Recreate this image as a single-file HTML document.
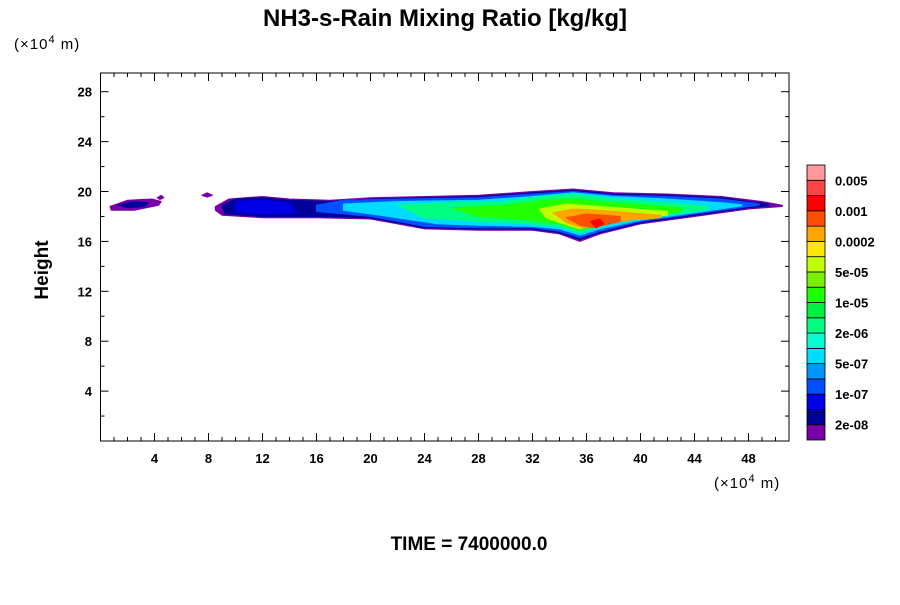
<!DOCTYPE html>
<html><head><meta charset="utf-8"><style>
body{margin:0;background:#fff;width:900px;height:600px;overflow:hidden;font-family:"Liberation Sans",sans-serif}
</style></head><body>
<svg id="c" width="900" height="600" xmlns="http://www.w3.org/2000/svg" font-family="Liberation Sans, sans-serif">
<text x="445" y="26" text-anchor="middle" font-size="24" font-weight="bold">NH3-s-Rain Mixing Ratio [kg/kg]</text>
<text x="14" y="49" font-size="15" letter-spacing="1">(×10<tspan dy="-6" font-size="11">4</tspan><tspan dy="6"> m)</tspan></text>
<text x="714" y="488" font-size="15" letter-spacing="1">(×10<tspan dy="-6" font-size="11">4</tspan><tspan dy="6"> m)</tspan></text>
<text x="48" y="270" font-size="19" font-weight="bold" text-anchor="middle" transform="rotate(-90 48 270)">Height</text>
<text x="469" y="550" font-size="19" font-weight="bold" text-anchor="middle">TIME = 7400000.0</text>
<g id="field"></g>
<g id="axes"></g>
<g id="cbar"></g>
</svg>
<script>
const colors=["#7800aa","#00009a","#0000e6","#0050ff","#0096ff","#00dcff","#00ffd0","#00ff80","#00f040","#22ff00","#78f000","#c0ff00","#ffe600","#ffa500","#ff5000","#ff0000","#ff4646","#ff9999"];
const cbLabels=["2e-08","1e-07","5e-07","2e-06","1e-05","5e-05","0.0002","0.001","0.005"];
const xTicks=[4,8,12,16,20,24,28,32,36,40,44,48];
const yTicks=[4,8,12,16,20,24,28];
// contour layers: level index, x points, y points (data units)
const layerLevel=[0,1,0,1,0,0,2,3,5,7,9,11,13,14,15];
const layerX=[
[8.5,9.5,12,14,17,20,24,28,32,35,38,42,46,49,50.5,50.5,48,44,40,37,35.5,34,32,28,24,20,16,12,9,8.5],
[9,10,12,14,17,20,24,28,32,35,38,42,46,49.5,49.5,48,44,40,37,35.5,34,32,28,24,20,16,12,9.2],
[0.7,2,3.8,4.5,4.3,2.5,0.8],
[1.3,2.5,3.5,3.3,2],
[7.5,7.9,8.3,7.9],
[4.2,4.5,4.7,4.4],
[10,12,14,14.5,12,10],
[16,18,22,28,32,35,38,42,46,48.8,48.8,46,42,40,37,35.5,34,32,28,24,20,16],
[18,22,28,32,35,38,42,46,47.5,47.5,44,40,37,35.5,34,32,28,25,22,18],
[22,26,30,32.5,35,38,42,45,45,42,39,37,35.5,34,31,28,24],
[26,30,33,35,38,43,43,40,37,35.5,34,31,28],
[32.5,34.5,37,42,42,39,37,35.5,34,33],
[33.5,35,37,41.5,41.5,39,37,35.6,34.5],
[34.5,36,38.5,38.5,36.5,35.5],
[36.3,37,37.3,36.7]];
const layerY=[
[18.8,19.4,19.6,19.4,19.3,19.5,19.6,19.7,20.0,20.2,19.9,19.8,19.6,19.2,18.9,18.8,18.6,18.0,17.4,16.6,16.0,16.6,16.9,16.9,17.0,17.8,17.9,17.9,18.1,18.5],
[18.9,19.4,19.5,19.3,19.2,19.4,19.5,19.6,19.9,20.1,19.8,19.7,19.5,19.0,18.85,18.7,18.1,17.5,16.7,16.15,16.7,17.0,17.0,17.1,17.9,18.0,18.0,18.2],
[18.8,19.3,19.4,19.2,18.9,18.5,18.5],
[18.9,19.2,19.1,18.8,18.7],
[19.7,19.9,19.7,19.55],
[19.5,19.7,19.5,19.35],
[19.2,19.3,19.1,18.3,18.2,18.4],
[18.9,19.3,19.4,19.5,19.8,20.0,19.7,19.6,19.4,19.0,18.9,18.5,17.9,17.6,16.8,16.3,16.8,17.1,17.1,17.2,18.0,18.4],
[19.0,19.2,19.3,19.6,19.9,19.6,19.4,19.1,18.95,18.85,18.3,17.7,17.0,16.5,17.0,17.2,17.3,17.4,17.9,18.5],
[18.9,19.1,19.2,19.6,19.8,19.4,19.1,18.8,18.6,18.1,17.8,17.2,16.7,17.2,17.5,17.6,17.9],
[18.7,18.9,19.3,19.4,19.1,18.7,18.4,18.0,17.4,16.9,17.4,17.8,18.0],
[18.6,19.0,18.8,18.4,18.1,17.9,17.5,17.0,17.5,17.9],
[18.3,18.6,18.5,18.1,17.9,17.7,17.3,17.1,17.5],
[17.9,18.2,18.0,17.6,17.1,17.3],
[17.6,17.8,17.4,17.1]];
const x0=100.5,x1=789,xMax=51,y0=441,yT=73,yMax=29.5;
const sx=v=>x0+v*(x1-x0)/xMax, sy=v=>y0-v*(y0-yT)/yMax;
const NS="http://www.w3.org/2000/svg";
const field=document.getElementById('field');
layerLevel.forEach((lv,i)=>{const p=document.createElementNS(NS,'polygon');


p.setAttribute('points',layerX[i].map((x,j)=>sx(x).toFixed(1)+','+sy(layerY[i][j]).toFixed(1)).join(' '));
p.setAttribute('fill',colors[lv]);p.setAttribute('stroke',colors[lv]);p.setAttribute('stroke-linejoin','round');
field.appendChild(p);});
const ax=document.getElementById('axes');
function add(p,tag,attrs,txt){const e=document.createElementNS(NS,tag);for(const k in attrs)e.setAttribute(k,attrs[k]);if(txt!==undefined)e.textContent=txt;p.appendChild(e);return e;}
const fr=add(ax,'rect',{x:x0,y:yT,width:x1-x0,height:y0-yT,fill:'none',stroke:'#000','stroke-width':1});


for(let v=1;v<xMax;v++){const L=v%4==0?8:4;const x=sx(v);
add(ax,'line',{x1:x,x2:x,y1:y0,y2:y0-L,stroke:'#000'});add(ax,'line',{x1:x,x2:x,y1:yT,y2:yT+L,stroke:'#000'});}
for(let v=2;v<yMax;v+=2){const L=v%4==0?8:4;const y=sy(v);
add(ax,'line',{x1:x0,x2:x0+L,y1:y,y2:y,stroke:'#000'});add(ax,'line',{x1:x1,x2:x1-L,y1:y,y2:y,stroke:'#000'});}
xTicks.forEach(v=>{const t=add(ax,'text',{x:sx(v),y:463,'text-anchor':'middle','font-size':13,'font-weight':'bold'},v);

});
yTicks.forEach(v=>{const t=add(ax,'text',{x:92,y:sy(v)+5,'text-anchor':'end','font-size':13,'font-weight':'bold'},v);

});
const cb=document.getElementById('cbar');
const cbTop=165,cbBot=440,h=(cbBot-cbTop)/colors.length;
colors.forEach((c,i)=>{const r=add(cb,'rect',{x:807,y:cbBot-(i+1)*h,width:18,height:h,fill:c,stroke:'#000','stroke-width':0.8});

});
cbLabels.forEach((s,i)=>{const t=add(cb,'text',{x:835,y:cbBot-(2*i+1)*h+5,'font-size':13,'font-weight':'bold'},s);

});
</script>
</body></html>
